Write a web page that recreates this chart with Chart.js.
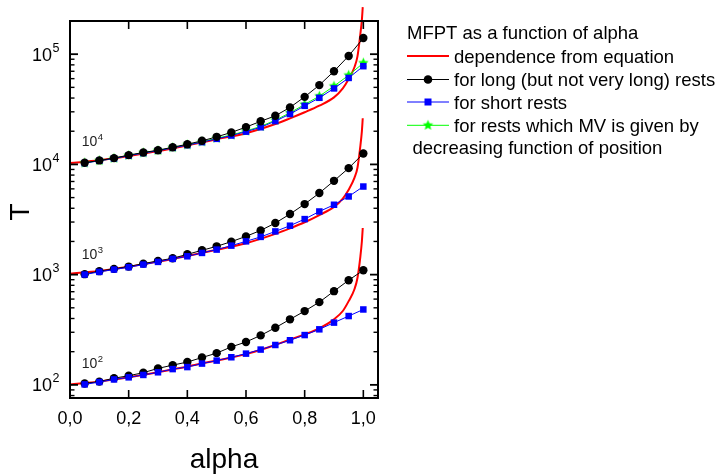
<!DOCTYPE html>
<html><head><meta charset="utf-8">
<script src="https://cdn.jsdelivr.net/npm/chart.js@4.4.0/dist/chart.umd.min.js"></script>
<style>html,body{margin:0;padding:0;background:#fff;}canvas{display:block;}</style>
</head><body>
<canvas id="c" width="724" height="475"></canvas>
<script>
// ---- data ----
const alpha = [0.05,0.10,0.15,0.20,0.25,0.30,0.35,0.40,0.45,0.50,0.55,0.60,0.65,0.70,0.75,0.80,0.85,0.90,0.95,1.00];
const alphaEq = [0,0.1,0.2,0.3,0.4,0.5,0.6,0.7,0.75,0.8,0.85,0.9,0.93,0.95,0.97,0.98,0.99,0.995,0.998];

const eq100   = [101,107,117,130,147,166,190,230,258,287,326,393,468,575,741,933,1466,2000,2650];
const eq1000  = [1020,1081,1180,1312,1479,1679,1928,2344,2630,2985,3467,4121,4900,5890,7590,9330,14800,19950,26200];
const eq10000 = [10300,10900,11900,13210,14890,16900,19190,23230,26180,29720,34120,40550,48980,59570,76560,95500,153500,204000,267000];

const long100   = [103,107,115,121,129,141,151,161,177,194,221,245,281,330,393,467,563,708,890,1097];
const short100  = [101,106,112,117,123,130,139,145,156,166,178,192,209,230,254,283,319,367,421,483];
const long1000  = [1010,1075,1128,1183,1259,1333,1407,1529,1662,1806,1992,2224,2519,2937,3545,4366,5495,7096,9250,12540];
const short1000 = [1002,1059,1112,1167,1234,1305,1390,1467,1574,1687,1833,2005,2200,2467,2780,3190,3740,4305,5120,6300];
const long10000  = [10350,10870,11400,12140,12830,13450,14320,15250,16370,17790,19500,21800,24600,27600,32900,41000,52400,70000,96400,140000];
const short10000 = [10280,10790,11320,12000,12680,13300,14130,14960,15920,17060,18280,19820,21730,24700,28640,34000,40200,48900,60900,77800];
const mv10000    = [10300,10820,11350,12050,12730,13350,14200,15050,16050,17250,18500,20100,22100,25200,29400,35000,41600,51300,64400,83200];

const xTicks = [0,0.2,0.4,0.6,0.8,1.0];
const xTickLabels = ['0,0','0,2','0,4','0,6','0,8','1,0'];
const yDecades = [100,1000,10000,100000];
const yDecadeExp = ['2','3','4','5'];
const annoAlpha = [0.04,0.04,0.04];
const annoT = [141,1390,14800];
const annoExp = ['2','3','4'];

const legendTitle = 'MFPT as a function of alpha';
const legendLabels = ['dependence from equation','for long (but not very long) rests','for short rests','for rests which MV is given by'];
const legendExtra = 'decreasing function of position';

// ---- helpers ----
const FONT = "'Liberation Sans', Arial, sans-serif";
function series(xs, ys){ return xs.map((x,i)=>({x:x, y:ys[i]})); }
function starCanvas(color, r){
  const s = Math.ceil(r*2+2); const c = document.createElement('canvas'); c.width = s; c.height = s;
  const g = c.getContext('2d'); g.fillStyle = color; g.beginPath();
  for (let i=0;i<10;i++){ const rr = i%2 ? r*0.45 : r; const a = -Math.PI/2 + i*Math.PI/5; g.lineTo(s/2+rr*Math.cos(a), s/2+rr*Math.sin(a)); }
  g.closePath(); g.fill(); return c;
}
const star = starCanvas('#00ff00', 5.5);

const redStyle = {borderColor:'#ff0000', borderWidth:2, pointRadius:0, showLine:true, cubicInterpolationMode:'monotone', clip:false, order:10};
const blackStyle = {borderColor:'#000', borderWidth:1, showLine:true, pointStyle:'circle', pointRadius:4.2, pointBackgroundColor:'#000', pointBorderWidth:0};
const blueStyle = {borderColor:'#0000ff', borderWidth:1, showLine:true, pointStyle:'rect', pointRadius:4.6, pointBackgroundColor:'#0000ff', pointBorderWidth:0};
const greenStyle = {borderColor:'#00ff00', borderWidth:1, showLine:true, pointStyle:star, pointRadius:5.5};

const datasets = [
  Object.assign({label:'eq10000', data:series(alphaEq, eq10000)}, redStyle),
  Object.assign({label:'eq1000', data:series(alphaEq, eq1000)}, redStyle),
  Object.assign({label:'eq100', data:series(alphaEq, eq100)}, redStyle),
  Object.assign({label:'long10000', data:series(alpha, long10000), order:1}, blackStyle),
  Object.assign({label:'short10000', data:series(alpha, short10000), order:2}, blueStyle),
  Object.assign({label:'mv10000', data:series(alpha, mv10000), order:3}, greenStyle),
  Object.assign({label:'long1000', data:series(alpha, long1000), order:2}, blackStyle),
  Object.assign({label:'short1000', data:series(alpha, short1000), order:1}, blueStyle),
  Object.assign({label:'long100', data:series(alpha, long100), order:2}, blackStyle),
  Object.assign({label:'short100', data:series(alpha, short100), order:1}, blueStyle)
];

function seg(ctx,x1,y1,x2,y2){ ctx.beginPath(); ctx.moveTo(x1,y1); ctx.lineTo(x2,y2); ctx.stroke(); }

const axesPlugin = {
  id:'axesPlugin',
  afterDatasetsDraw(chart){
    const ctx = chart.ctx, a = chart.chartArea, xs = chart.scales.x, ys = chart.scales.y;
    ctx.save();
    ctx.strokeStyle = '#000'; ctx.fillStyle = '#000';
    // x ticks (inward, top and bottom)
    ctx.lineWidth = 1.6;
    xTicks.forEach(v=>{ const px = xs.getPixelForValue(v); seg(ctx,px,a.bottom,px,a.bottom-8); seg(ctx,px,a.top,px,a.top+8); });
    // y ticks, decades and minor
    yDecades.concat([10]).forEach(d=>{
      for (let m=1;m<=9;m++){
        const v = d*m; if (v < ys.min || v > ys.max) continue;
        const py = ys.getPixelForValue(v); const len = m===1 ? 8 : 4.5;
        ctx.lineWidth = m===1 ? 1.8 : 1.4;
        seg(ctx,a.left,py,a.left+len,py); seg(ctx,a.right,py,a.right-len,py);
      }
    });
    // frame
    ctx.lineWidth = 2;
    ctx.strokeRect(a.left, a.top, a.right-a.left, a.bottom-a.top);
    // x tick labels
    ctx.font = '18px '+FONT; ctx.textAlign='center'; ctx.textBaseline='alphabetic';
    xTicks.forEach((v,i)=>{ ctx.fillText(xTickLabels[i], xs.getPixelForValue(v), 424); });
    // y tick labels with superscript
    yDecades.forEach((v,i)=>{
      const py = ys.getPixelForValue(v);
      ctx.font = '18px '+FONT; ctx.textAlign='right'; ctx.fillText('10', 52, py+6.5);
      ctx.font = '12.5px '+FONT; ctx.textAlign='left'; ctx.fillText(yDecadeExp[i], 52.5, py-2.5);
    });
    // in-plot annotations
    annoAlpha.forEach((v,i)=>{
      const px = xs.getPixelForValue(v), py = ys.getPixelForValue(annoT[i]);
      ctx.font = '14px '+FONT; ctx.textAlign='left'; ctx.fillStyle='#222'; ctx.fillText('10', px, py);
      const w = ctx.measureText('10').width;
      ctx.font = '9.5px '+FONT; ctx.fillText(annoExp[i], px+w+0.5, py-6);
    });
    ctx.fillStyle = '#000';
    // axis titles
    ctx.font = '28px '+FONT; ctx.textAlign='center';
    ctx.fillText('alpha', (a.left+a.right)/2, 468);
    ctx.save(); ctx.translate(29, 212); ctx.rotate(-Math.PI/2); ctx.fillText('T', 0, 0); ctx.restore();
    ctx.restore();
  },
  afterDraw(chart){
    const ctx = chart.ctx; ctx.save();
    ctx.fillStyle='#000'; ctx.textAlign='left'; ctx.textBaseline='alphabetic';
    ctx.font = '18.5px '+FONT;
    ctx.fillText(legendTitle, 407, 39);
    const rows = [56, 79.5, 102, 125.3];
    const colors = ['#ff0000','#000000','#0000ff','#00ff00'];
    rows.forEach((y,i)=>{
      ctx.strokeStyle = colors[i]; ctx.lineWidth = i===0 ? 2 : 1;
      seg(ctx, 407, y, 449, y);
      ctx.fillStyle = colors[i];
      if (i===1){ ctx.beginPath(); ctx.arc(428, y, 4.3, 0, Math.PI*2); ctx.fill(); }
      if (i===2){ ctx.fillRect(424.5, y-3.5, 7, 7); }
      if (i===3){ ctx.drawImage(star, 428-star.width/2, y-star.height/2); }
      ctx.fillStyle='#000';
      ctx.fillText(legendLabels[i], 454, y+6.7);
    });
    ctx.fillText(legendExtra, 412.5, 154);
    ctx.restore();
  }
};

new Chart(document.getElementById('c').getContext('2d'), {
  type:'scatter',
  data:{datasets:datasets},
  options:{
    responsive:false, animation:false, devicePixelRatio:1,
    layout:{padding:{left:70,right:346,top:21,bottom:77}},
    plugins:{legend:{display:false}, tooltip:{enabled:false}},
    scales:{
      x:{type:'linear', min:0, max:1.05, display:false},
      y:{type:'logarithmic', min:76, max:200000, display:false}
    }
  },
  plugins:[axesPlugin]
});
</script>
</body></html>
